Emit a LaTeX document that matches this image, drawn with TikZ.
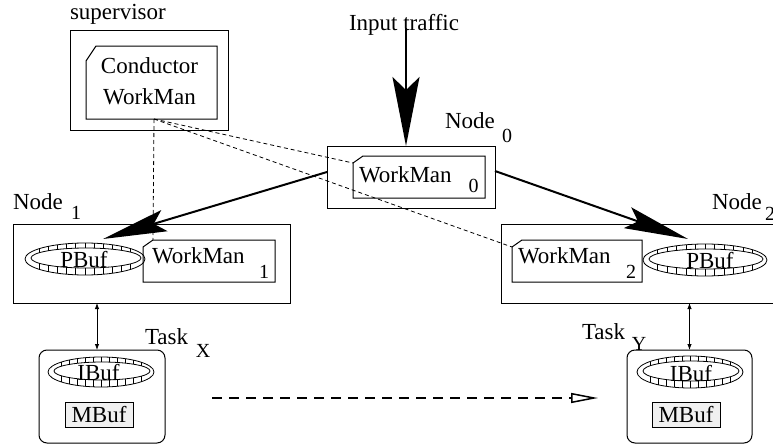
\documentclass[tikz,border=0pt]{standalone}
\usepackage{fontspec}
\setmainfont{Liberation Serif}
\usetikzlibrary{arrows.meta}

% ring buffer: centre, outer radii, inner radii
\newcommand{\ringbuf}[5]{%
  \begin{scope}[shift={#1}]
    \draw[ring] (0,0) ellipse [x radius=#2, y radius=#3];
    \draw[ring] (1,-1) ellipse [x radius=#4, y radius=#5];
    \foreach \k in {-5,...,5} {
      \pgfmathsetmacro{\t}{\k*#4/6}
      \draw[ring] (\t,{-#3*sqrt(1-(\t/#2)^2)}) -- (\t,{-1-#5*sqrt(1-((\t-1)/#4)^2)});
      \draw[ring] (\t,{#3*sqrt(1-(\t/#2)^2)}) -- (\t,{-1+#5*sqrt(1-((\t-1)/#4)^2)});
    }
  \end{scope}}
% box with the north west corner cut off
\newcommand{\chamfer}[3]{%
  \draw[thinbox] ([yshift=-#3]#1.north west) -- ([xshift=#2]#1.north west)
    -- (#1.north east) -- (#1.south east) -- (#1.south west) -- cycle;}

\begin{document}
\begin{tikzpicture}[x=0.5pt,y=-0.5pt,font=\fontsize{11.5}{13}\selectfont,
  every node/.style={inner sep=0pt,outer sep=0pt},
  box/.style={draw,line width=0.5pt},
  thinbox/.style={line width=0.5pt},
  frame/.style={minimum width=#1},
  sub/.style={font=\fontsize{10}{12}\selectfont},
  ring/.style={line width=0.4pt},
  mbuf/.style={box,fill=gray!12,minimum width=34pt,minimum height=12.5pt},
  task/.style={box,rounded corners=4pt,minimum height=46.5pt},
  ctrl/.style={line width=0.4pt,dash pattern=on 2pt off 1.5pt},
  route/.style={line width=1pt,-{Stealth[length=32pt,width=11pt,inset=5.5pt]}},
  feed/.style={line width=1pt,-{Stealth[length=34.5pt,width=13.5pt,inset=6.5pt]}},
  link/.style={line width=0.4pt,{Latex[length=3pt,width=2.2pt]}-{Latex[length=3pt,width=2.2pt]}},
  migrate/.style={line width=0.75pt,dash pattern=on 5pt off 3.5pt,-{Triangle[open,length=13.5pt,width=5pt]}}]
\useasboundingbox (0,0) rectangle (773,445);
\clip (0,0) rectangle (773,445);

% supervisor
\node[box,minimum width=79pt,minimum height=50pt] (sup) at (149,80) {};
\node[anchor=base west] (suplab) at (70,19) {supervisor};
\node[frame=65.5pt,minimum height=36.5pt] (cond) at (151.5,82.5) {};
\chamfer{cond}{5pt}{7.5pt}
\node[anchor=base] (condtxt) at (149.5,73) {Conductor};
\node[anchor=base] (condwm) at (149.5,104) {WorkMan};

% node 0
\node[box,minimum width=84pt,minimum height=31pt] (n0) at (411,177) {};
\node[frame=66pt,minimum height=21pt] (wm0) at (419,177) {};
\chamfer{wm0}{5pt}{3.5pt}
\node[anchor=base west] (wm0txt) at (359,182) {WorkMan};
\node[sub,anchor=base] (wm0sub) at (473.5,192) {0};
\node[anchor=base west] (n0lab) at (445,128) {Node};
\node[sub,anchor=base] (n0sub) at (507,142) {0};
\node[anchor=base west] (intxt) at (349,30) {Input traffic};

% node 1
\node[box,minimum width=138.5pt,minimum height=39.5pt] (n1) at (151.5,263.5) {};
\node[frame=66pt,minimum height=21pt] (wm1) at (209,261) {};
\chamfer{wm1}{5pt}{3.5pt}
\node[anchor=base west] (wm1txt) at (152,263) {WorkMan};
\node[sub,anchor=base] (wm1sub) at (264,278) {1};
\node[anchor=base west] (n1lab) at (13,209) {Node};
\node[sub,anchor=base] (n1sub) at (76,219) {1};
\ringbuf{(85,259)}{60}{16}{55}{10}
\node[anchor=base] (pbuf1) at (84,267) {PBuf};

% node 2
\node[box,minimum width=138.5pt,minimum height=39.5pt] (n2) at (639.5,263.5) {};
\node[frame=65pt,minimum height=21pt] (wm2) at (577,261) {};
\chamfer{wm2}{5pt}{3.5pt}
\node[anchor=base west] (wm2txt) at (518,263) {WorkMan};
\node[sub,anchor=base] (wm2sub) at (631,278) {2};
\node[anchor=base west] (n2lab) at (712,209) {Node};
\node[sub,anchor=base] (n2sub) at (770,220) {2};
\ringbuf{(705,260)}{62}{16}{57}{10}
\node[anchor=base] (pbuf2) at (710,268) {PBuf};

% task X
\node[task,minimum width=63pt] (tx) at (102,396.5) {};
\ringbuf{(101,372)}{53}{15}{48}{9}
\node[anchor=base] (ibx) at (98.5,380) {IBuf};
\node[mbuf] (mbx) at (99,414.5) {MBuf};
\node[anchor=base west] (txlab) at (145,344) {Task};
\node[sub,anchor=base] (txsub) at (203,357) {X};

% task Y
\node[task,minimum width=62.5pt] (ty) at (689.5,396.5) {};
\ringbuf{(690,372)}{53}{16}{48}{10}
\node[anchor=base] (iby) at (691,381) {IBuf};
\node[mbuf] (mby) at (686,415) {MBuf};
\node[anchor=base west] (tylab) at (582,339) {Task};
\node[sub,anchor=base] (tysub) at (639,350) {Y};

% connectors
\coordinate (in0) at (406,28);
\coordinate (tip1) at (103,239);
\coordinate (tip2) at (688,239);
\coordinate (mig0) at (212,398);
\coordinate (mig1) at (598,398);
\draw[ctrl] ([xshift=1.25pt]cond.south) -- ([xshift=5pt]wm1.north west);
\draw[ctrl] ([xshift=1.25pt]cond.south) -- ([yshift=-3.5pt]wm0.north west);
\draw[ctrl] ([xshift=1.25pt]cond.south) -- ([yshift=-3.5pt]wm2.north west);
\draw[feed] (in0) -- (in0 |- n0.north);
\draw[route] ([yshift=2.5pt]n0.west) -- (tip1);
\draw[route] ([yshift=3pt]n0.east) -- (tip2);
\draw[link] ([xshift=-2.5pt]tx.north |- n1.south) -- ([xshift=-2.5pt]tx.north);
\draw[link] (ty.north |- n2.south) -- (ty.north);
\draw[migrate] (mig0) -- (mig1);
\end{tikzpicture}
\end{document}
